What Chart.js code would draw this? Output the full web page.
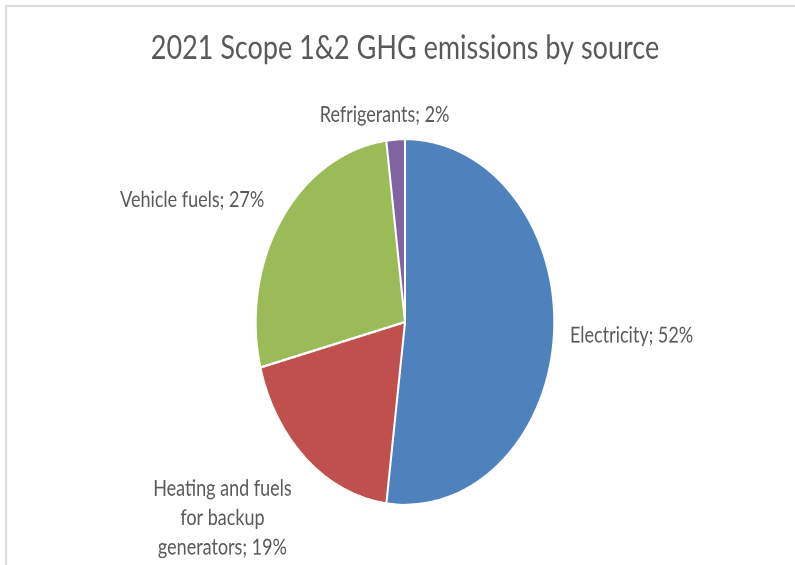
<!DOCTYPE html>
<html>
<head>
<meta charset="utf-8">
<script src="https://cdn.jsdelivr.net/npm/chart.js@4/dist/chart.umd.min.js"></script>
<style>
    html, body { margin: 0; padding: 0; background: #fff; overflow: hidden; width: 795px; height: 565px; }
    .edge { position: absolute; background: #dcdcdc; }
    #edgeTop { left: 5px; top: 5px; width: 790px; height: 2px; }
    #edgeLeft { left: 5px; top: 5px; width: 2px; height: 560px; }
    /* the reference is squashed sideways, so draw flat and stretch vertically */
    #wrap { position: absolute; left: 0; top: 0; width: 795px; height: 461px; transform: scaleY(1.2256); transform-origin: 0 0; }
</style>
</head>
<body>
<div id="wrap"><canvas id="ghgPieChart" width="795" height="461"></canvas></div>
<div class="edge" id="edgeTop"></div>
<div class="edge" id="edgeLeft"></div>
<script>
var chartTitle = '2021 Scope 1&2 GHG emissions by source';
var categories = ['Electricity', 'Heating and fuels for backup generators', 'Vehicle fuels', 'Refrigerants'];
var labelLines = [['Electricity; 52%'], ['Heating and fuels', 'for backup', 'generators; 19%'], ['Vehicle fuels; 27%'], ['Refrigerants; 2%']];
var shares = [52, 19, 27, 2];
var sliceColors = ['#4f81bd', '#c0504d', '#9bbb59', '#8064a2'];

var textColor = '#595959';
var fontFamily = 'Lato, "Open Sans", sans-serif';

// Excel-style data labels placed just outside each slice
var outsideLabels = {
    id: 'outsideLabels',
    afterDatasetsDraw: function(chart) {
        var ctx = chart.ctx;
        var meta = chart.getDatasetMeta(0);
        ctx.save();
        ctx.fillStyle = textColor;
        ctx.font = '18px ' + fontFamily;
        var lineH = 24;
        meta.data.forEach(function(arc, i) {
            var p = arc.getProps(['x', 'y', 'startAngle', 'endAngle', 'outerRadius'], true);
            var mid = (p.startAngle + p.endAngle) / 2;
            var c = Math.cos(mid), s = Math.sin(mid);
            var r = p.outerRadius + 16;
            var px = p.x + c * r;
            var py = p.y + s * r;
            var lines = labelLines[i];
            var w = 0;
            lines.forEach(function(t) { w = Math.max(w, ctx.measureText(t).width); });
            var h = lines.length * lineH;
            var cx;
            if (c > 0.2) { cx = px + w / 2; }
            else if (c < -0.2) { cx = px - w / 2 - 4; }
            else { cx = px - 10; }
            var top;
            if (s > 0.5) { top = py; }
            else if (s < -0.9) { top = py - h / 2 - 4; }
            else { top = py - h / 2 + s * h / 2; }
            ctx.textAlign = 'center';
            ctx.textBaseline = 'middle';
            lines.forEach(function(t, j) {
                ctx.fillText(t, cx, top + lineH * j + lineH / 2);
            });
        });
        ctx.restore();
    }
};

new Chart(document.getElementById('ghgPieChart'), {
    type: 'pie',
    data: {
        labels: categories,
        datasets: [{ data: shares, backgroundColor: sliceColors, borderColor: '#fff', borderWidth: 2 }]
    },
    options: {
        responsive: false,
        animation: false,
        devicePixelRatio: 2,
        layout: { padding: { top: 0, bottom: 48, left: 15, right: 0 } },
        plugins: {
            legend: { display: false },
            tooltip: { enabled: false },
            title: { display: true, text: chartTitle, color: textColor, font: { family: fontFamily, size: 27, weight: 'normal' }, padding: { top: 23, bottom: 57 } }
        }
    },
    plugins: [outsideLabels]
});
</script>
</body>
</html>
